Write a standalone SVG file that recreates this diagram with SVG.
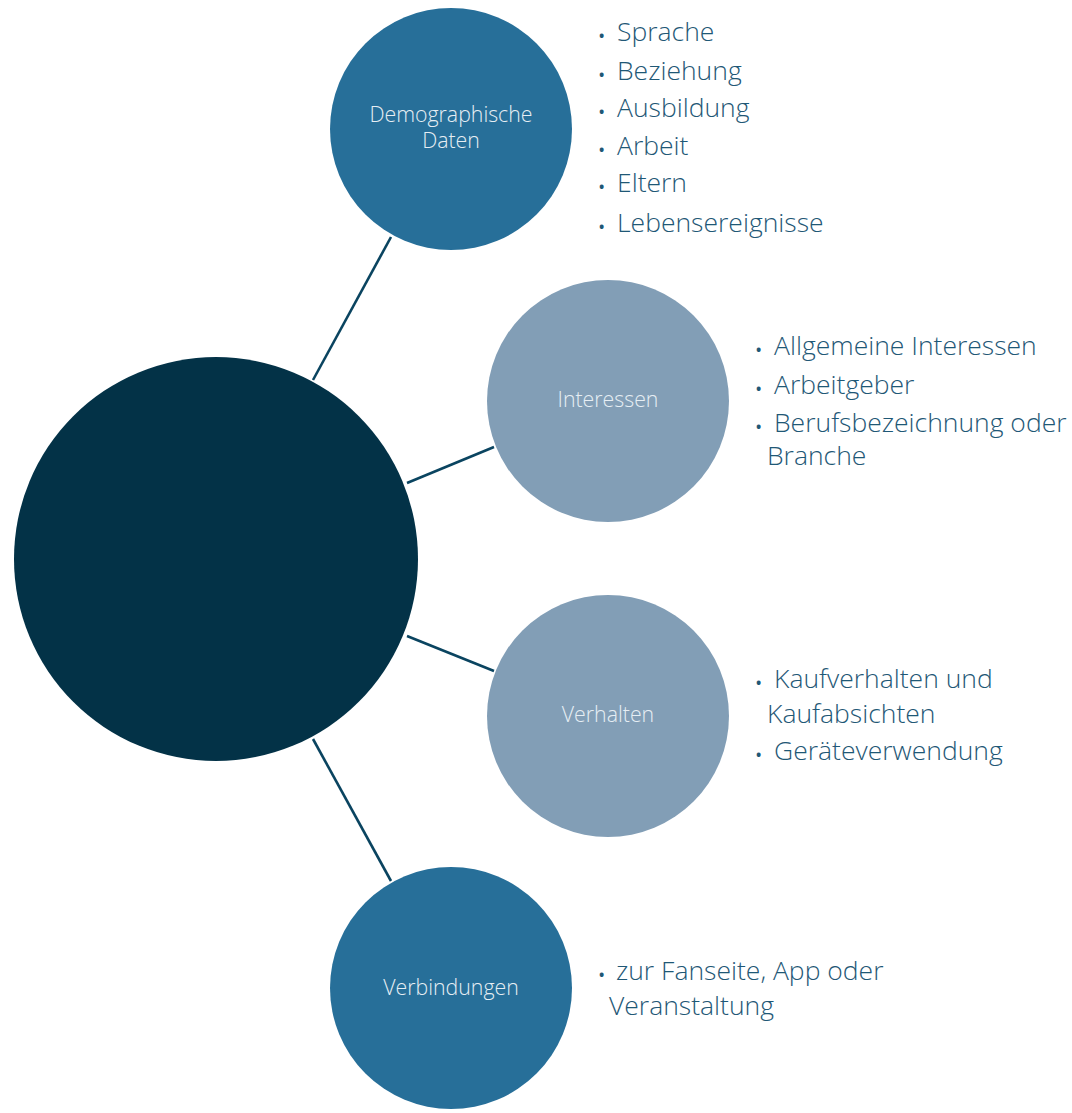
<svg xmlns="http://www.w3.org/2000/svg" width="1072" height="1113" viewBox="0 0 1072 1113">
<style>
.lbl{font-family:"Open Sans","Liberation Sans",sans-serif;font-weight:300;font-size:21.3px;fill:#e6eef4;text-anchor:middle}
.lst{font-family:"Open Sans","Liberation Sans",sans-serif;font-weight:300;font-size:26.5px;fill:#1f5876}
.b{font-size:14px;font-weight:700}
.conn{stroke:#0a4460;stroke-width:2.6;fill:none}
</style>
<rect width="1072" height="1113" fill="#ffffff"/>
<g id="connectors">
<line class="conn" x1="313" y1="380" x2="391" y2="237"/>
<line class="conn" x1="407" y1="483" x2="494" y2="447"/>
<line class="conn" x1="407" y1="636" x2="494" y2="671"/>
<line class="conn" x1="313" y1="739" x2="391" y2="881"/>
</g>
<g id="center">
<circle cx="216" cy="559" r="202" fill="#033247"/>
</g>
<g id="demographische">
<circle cx="451" cy="129" r="121" fill="#276f99"/>
<text class="lbl" x="451" y="122">Demographische</text>
<text class="lbl" x="451" y="148">Daten</text>
<text class="lst" x="599" y="41"><tspan class="b">•</tspan><tspan x="617">Sprache</tspan></text>
<text class="lst" x="599" y="80"><tspan class="b">•</tspan><tspan x="617">Beziehung</tspan></text>
<text class="lst" x="599" y="117"><tspan class="b">•</tspan><tspan x="617">Ausbildung</tspan></text>
<text class="lst" x="599" y="155"><tspan class="b">•</tspan><tspan x="617">Arbeit</tspan></text>
<text class="lst" x="599" y="192"><tspan class="b">•</tspan><tspan x="617">Eltern</tspan></text>
<text class="lst" x="599" y="232"><tspan class="b">•</tspan><tspan x="617">Lebensereignisse</tspan></text>
</g>
<g id="interessen">
<circle cx="608" cy="401" r="121" fill="#829eb6"/>
<text class="lbl" x="608" y="407">Interessen</text>
<text class="lst" x="756" y="355"><tspan class="b">•</tspan><tspan x="774">Allgemeine Interessen</tspan></text>
<text class="lst" x="756" y="394"><tspan class="b">•</tspan><tspan x="774">Arbeitgeber</tspan></text>
<text class="lst" x="756" y="432"><tspan class="b">•</tspan><tspan x="774">Berufsbezeichnung oder</tspan></text>
<text class="lst" x="767" y="465">Branche</text>
</g>
<g id="verhalten">
<circle cx="608" cy="716" r="121" fill="#829eb6"/>
<text class="lbl" x="608" y="722">Verhalten</text>
<text class="lst" x="756" y="688"><tspan class="b">•</tspan><tspan x="774">Kaufverhalten und</tspan></text>
<text class="lst" x="767" y="723">Kaufabsichten</text>
<text class="lst" x="756" y="760"><tspan class="b">•</tspan><tspan x="774">Geräteverwendung</tspan></text>
</g>
<g id="verbindungen">
<circle cx="451" cy="988" r="121" fill="#276f99"/>
<text class="lbl" x="451" y="995">Verbindungen</text>
<text class="lst" x="599" y="980"><tspan class="b">•</tspan><tspan x="616">zur Fanseite, App oder</tspan></text>
<text class="lst" x="609" y="1015">Veranstaltung</text>
</g>
</svg>
